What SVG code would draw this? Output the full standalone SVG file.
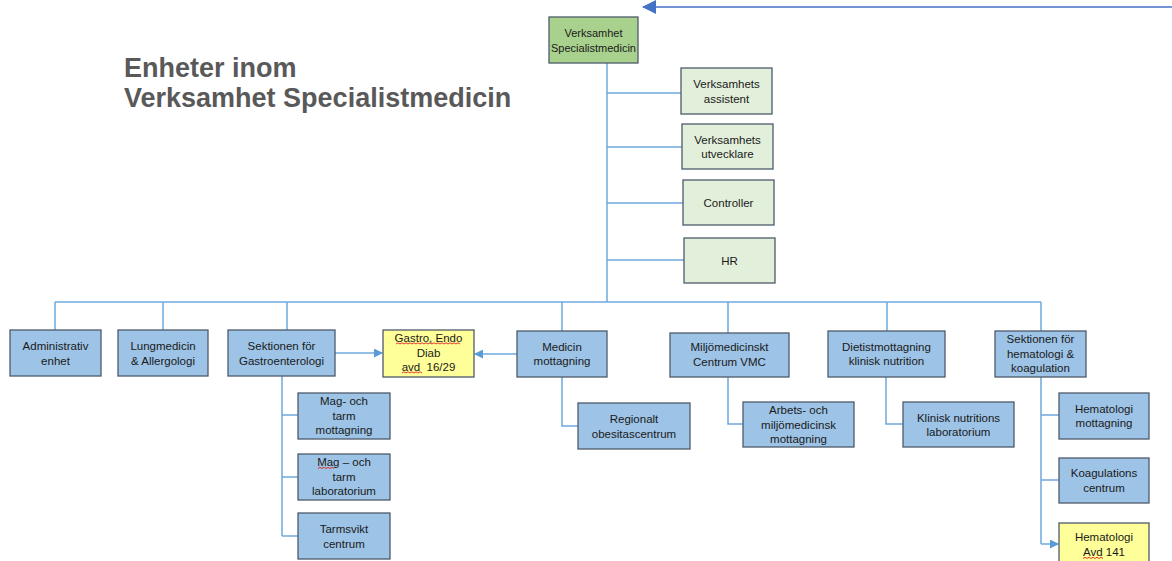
<svg xmlns="http://www.w3.org/2000/svg" width="1172" height="561" viewBox="0 0 1172 561">
  <style>
    .box { stroke: #4d5b6b; stroke-width: 1.3; }
    .blue { fill: #9dc3e6; }
    .lgreen { fill: #e2efda; }
    .green { fill: #a9d18e; }
    .yellow { fill: #ffff99; }
    .lbl { font-family: "Liberation Sans", Arial, sans-serif; font-size: 11.5px; fill: #1a1a1a; text-anchor: middle; }
    .title { font-family: "Liberation Sans", Arial, sans-serif; font-size: 27px; font-weight: bold; fill: #595959; }
    .conn { fill: none; stroke: #6fa8dc; stroke-width: 1.5; }
    .squig { fill: none; stroke: #e02020; stroke-width: 0.9; }
  </style>
  <defs>
    <marker id="arr" markerWidth="9" markerHeight="9" refX="8" refY="4.5" orient="auto" markerUnits="userSpaceOnUse">
      <path d="M0,0 L9,4.5 L0,9 Z" fill="#5b9bd5"/>
    </marker>
    <marker id="arrBig" markerWidth="14" markerHeight="14" refX="13" refY="7" orient="auto" markerUnits="userSpaceOnUse">
      <path d="M0,0 L14,7 L0,14 Z" fill="#4472c4"/>
    </marker>
  </defs>
  <rect width="1172" height="561" fill="#ffffff"/>

  <!-- heading -->
  <text class="title" x="124" y="76.5">Enheter inom</text>
  <text class="title" x="124" y="107">Verksamhet Specialistmedicin</text>

  <!-- connectors -->
  <g id="connectors">
    <path d="M1172,7 H643" fill="none" stroke="#4472c4" stroke-width="1.6" marker-end="url(#arrBig)"/>
    <path class="conn" d="M607,63 V302"/>
    <path class="conn" d="M607,93 H681 M607,147 H682 M607,203 H683 M607,260 H684"/>
    <path class="conn" d="M55,302 H1041"/>
    <path class="conn" d="M55,302 V330 M163,302 V330 M287,302 V330 M562,302 V331 M728,302 V333 M887,302 V331 M1041,302 V331"/>
    <path class="conn" d="M335,353 H382" marker-end="url(#arr)"/>
    <path class="conn" d="M517,354 H475" marker-end="url(#arr)"/>
    <path class="conn" d="M282,376 V536 M282,415 H298 M282,477 H298 M282,536 H298"/>
    <path class="conn" d="M562,377 V426 H578"/>
    <path class="conn" d="M728,377 V424 H743"/>
    <path class="conn" d="M886,377 V424 H903"/>
    <path class="conn" d="M1041,377 V415 H1059 M1041,415 V480 H1059 M1041,480 V544"/>
    <path class="conn" d="M1041,544 H1058" marker-end="url(#arr)"/>
  </g>

  <!-- management -->
  <g id="n-verksamhet">
    <rect class="box green" x="549" y="17" width="89" height="46"/>
    <text class="lbl" x="593.5" y="37" style="font-size:11px">Verksamhet</text>
    <text class="lbl" x="593.5" y="51.5" style="font-size:11px">Specialistmedicin</text>
  </g>
  <g id="n-assistent">
    <rect class="box lgreen" x="681" y="68" width="91" height="46"/>
    <text class="lbl" x="726.5" y="88">Verksamhets</text>
    <text class="lbl" x="726.5" y="102.5">assistent</text>
  </g>
  <g id="n-utvecklare">
    <rect class="box lgreen" x="682" y="124" width="91" height="45"/>
    <text class="lbl" x="727.5" y="143.5">Verksamhets</text>
    <text class="lbl" x="727.5" y="158">utvecklare</text>
  </g>
  <g id="n-controller">
    <rect class="box lgreen" x="683" y="180" width="91" height="45"/>
    <text class="lbl" x="728.5" y="206.5">Controller</text>
  </g>
  <g id="n-hr">
    <rect class="box lgreen" x="684" y="238" width="91" height="45"/>
    <text class="lbl" x="729.5" y="264.5">HR</text>
  </g>

  <!-- units -->
  <g id="n-admin">
    <rect class="box blue" x="10" y="330" width="91" height="46"/>
    <text class="lbl" x="55.5" y="350">Administrativ</text>
    <text class="lbl" x="55.5" y="364.5">enhet</text>
  </g>
  <g id="n-lung">
    <rect class="box blue" x="118" y="330" width="90" height="46"/>
    <text class="lbl" x="163" y="350">Lungmedicin</text>
    <text class="lbl" x="163" y="364.5">&amp; Allergologi</text>
  </g>
  <g id="n-gastroenterologi">
    <rect class="box blue" x="228" y="330" width="107" height="46"/>
    <text class="lbl" x="281.5" y="350">Sektionen för</text>
    <text class="lbl" x="281.5" y="364.5">Gastroenterologi</text>
  </g>
  <g id="n-gastro-avd">
    <rect class="box yellow" x="383" y="330" width="91" height="47"/>
    <text class="lbl" x="428.5" y="342">Gastro, Endo</text>
    <text class="lbl" x="428.5" y="356.5">Diab</text>
    <text class="lbl" x="428.5" y="371" xml:space="preserve">avd  16/29</text>
    <path class="squig" d="M396,344 l2,-1.2 l2,1.2 l2,-1.2 l2,1.2 l2,-1.2 l2,1.2 l2,-1.2 l2,1.2 l2,-1.2 l2,1.2 l2,-1.2 l2,1.2 l2,-1.2 l2,1.2 l2,-1.2 l2,1.2 l2,-1.2 l2,1.2 l2,-1.2 l2,1.2 l2,-1.2 l2,1.2 l2,-1.2 l2,1.2 l2,-1.2 l2,1.2 l2,-1.2 l2,1.2 l2,-1.2 l2,1.2 l2,-1.2 l2,1.2"/>
    <path class="squig" d="M402,373 l2,-1.2 l2,1.2 l2,-1.2 l2,1.2 l2,-1.2 l2,1.2 l2,-1.2 l2,1.2 l2,-1.2 l2,1.2"/>
  </g>
  <g id="n-medicin">
    <rect class="box blue" x="517" y="331" width="90" height="46"/>
    <text class="lbl" x="562" y="350.5">Medicin</text>
    <text class="lbl" x="562" y="365">mottagning</text>
  </g>
  <g id="n-vmc">
    <rect class="box blue" x="670" y="333" width="119" height="44"/>
    <text class="lbl" x="729.5" y="351">Miljömedicinskt</text>
    <text class="lbl" x="729.5" y="365.5">Centrum VMC</text>
  </g>
  <g id="n-dietist">
    <rect class="box blue" x="828" y="331" width="117" height="46"/>
    <text class="lbl" x="886.5" y="350.5">Dietistmottagning</text>
    <text class="lbl" x="886.5" y="365">klinisk nutrition</text>
  </g>
  <g id="n-hematologi-sektion">
    <rect class="box blue" x="995" y="331" width="91" height="46"/>
    <text class="lbl" x="1040.5" y="343">Sektionen för</text>
    <text class="lbl" x="1040.5" y="357.5">hematologi &amp;</text>
    <text class="lbl" x="1040.5" y="372">koagulation</text>
  </g>

  <!-- sub-units -->
  <g id="n-mag-mottagning">
    <rect class="box blue" x="298" y="393" width="92" height="46"/>
    <text class="lbl" x="344" y="405">Mag- och</text>
    <text class="lbl" x="344" y="419.5">tarm</text>
    <text class="lbl" x="344" y="434">mottagning</text>
  </g>
  <g id="n-mag-lab">
    <rect class="box blue" x="298" y="454" width="92" height="46"/>
    <text class="lbl" x="344" y="466">Mag – och</text>
    <text class="lbl" x="344" y="480.5">tarm</text>
    <text class="lbl" x="344" y="495">laboratorium</text>
    <path class="squig" d="M318,468.5 l2,-1.2 l2,1.2 l2,-1.2 l2,1.2 l2,-1.2 l2,1.2 l2,-1.2 l2,1.2"/>
  </g>
  <g id="n-tarmsvikt">
    <rect class="box blue" x="298" y="513" width="92" height="46"/>
    <text class="lbl" x="344" y="533">Tarmsvikt</text>
    <text class="lbl" x="344" y="547.5">centrum</text>
  </g>
  <g id="n-obesitas">
    <rect class="box blue" x="578" y="403" width="112" height="46"/>
    <text class="lbl" x="634" y="423">Regionalt</text>
    <text class="lbl" x="634" y="437.5">obesitascentrum</text>
  </g>
  <g id="n-arbets">
    <rect class="box blue" x="743" y="402" width="111" height="45"/>
    <text class="lbl" x="798.5" y="414">Arbets- och</text>
    <text class="lbl" x="798.5" y="428.5">miljömedicinsk</text>
    <text class="lbl" x="798.5" y="443">mottagning</text>
  </g>
  <g id="n-nutrition-lab">
    <rect class="box blue" x="903" y="402" width="111" height="45"/>
    <text class="lbl" x="958.5" y="421.5">Klinisk nutritions</text>
    <text class="lbl" x="958.5" y="436">laboratorium</text>
  </g>
  <g id="n-hem-mottagning">
    <rect class="box blue" x="1059" y="393" width="90" height="46"/>
    <text class="lbl" x="1104" y="412.5">Hematologi</text>
    <text class="lbl" x="1104" y="427">mottagning</text>
  </g>
  <g id="n-koagulation">
    <rect class="box blue" x="1059" y="458" width="90" height="45"/>
    <text class="lbl" x="1104" y="477">Koagulations</text>
    <text class="lbl" x="1104" y="491.5">centrum</text>
  </g>
  <g id="n-hem-avd">
    <rect class="box yellow" x="1059" y="523" width="90" height="46"/>
    <text class="lbl" x="1104" y="541">Hematologi</text>
    <text class="lbl" x="1104" y="555.5">Avd 141</text>
    <path class="squig" d="M1083,558.5 l2,-1.2 l2,1.2 l2,-1.2 l2,1.2 l2,-1.2 l2,1.2 l2,-1.2 l2,1.2 l2,-1.2 l2,1.2"/>
  </g>
</svg>
